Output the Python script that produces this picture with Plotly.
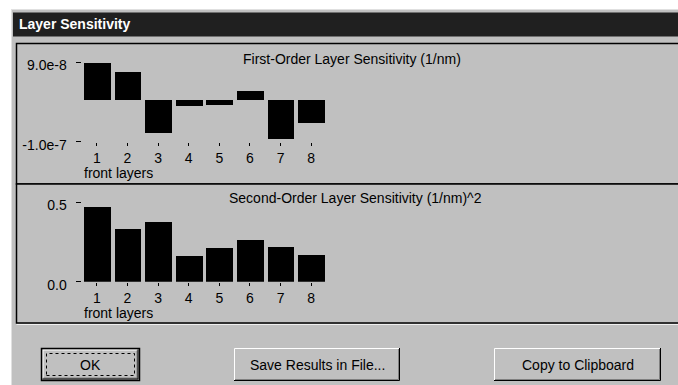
import plotly.graph_objects as go

W, H = 678, 385

layers = [1, 2, 3, 4, 5, 6, 7, 8]
first_order = [8.7e-8, 6.7e-8, -7.9e-8, -1.55e-8, -1.25e-8, 2.0e-8, -9.4e-8, -5.6e-8]
second_order = [0.467, 0.329, 0.376, 0.159, 0.210, 0.260, 0.218, 0.166]
first_ticks = [-1.0e-7, 9.0e-8]
first_ticktext = ["-1.0e-7", "9.0e-8"]
second_ticks = [0.0, 0.5]
second_ticktext = ["0.0", "0.5"]

FONT = "Liberation Sans, Arial, sans-serif"
GRAY = "#c0c0c0"


def px(x):
    return x / W


def py(y):
    return 1 - y / H


fig = go.Figure()
fig.add_trace(go.Bar(x=layers, y=first_order, width=0.87, marker=dict(color="black", line=dict(width=0)),
                     xaxis="x", yaxis="y", hoverinfo="skip"))
fig.add_trace(go.Bar(x=layers, y=second_order, width=0.87, marker=dict(color="black", line=dict(width=0)),
                     xaxis="x2", yaxis="y2", hoverinfo="skip"))

xdom = [px(81.5), px(326.5)]
common_x = dict(range=[0.5, 8.5], tickvals=layers, ticks="outside", ticklen=3, tickcolor="black",
                showgrid=False, zeroline=False, showline=False, fixedrange=True, automargin=False,
                tickfont=dict(family=FONT, size=14, color="black"), domain=xdom)
common_y = dict(ticks="outside", ticklen=5, tickcolor="black", tickwidth=1, showgrid=False,
                zeroline=False, showline=False, fixedrange=True, ticklabelstandoff=6, automargin=False,
                ticklabelshift=3,
                tickfont=dict(family=FONT, size=14, color="black"))

shapes = []
# dialog background
shapes.append(dict(type="rect", xref="paper", yref="paper", x0=px(11), x1=px(W + 5), y0=py(H + 5), y1=py(9),
                   fillcolor=GRAY, line=dict(width=0), layer="below"))
shapes.append(dict(type="line", xref="paper", yref="paper", x0=px(11), x1=px(W + 5), y0=py(9.5), y1=py(9.5),
                   line=dict(color="#e0e0e0", width=1), layer="below"))
shapes.append(dict(type="line", xref="paper", yref="paper", x0=px(11.5), x1=px(11.5), y0=py(9), y1=py(H + 5),
                   line=dict(color="#e0e0e0", width=1), layer="below"))
# title bar
shapes.append(dict(type="rect", xref="paper", yref="paper", x0=px(13), x1=px(W + 5), y0=py(36.5), y1=py(12.5),
                   fillcolor="#202020", line=dict(width=0), layer="below"))
# panels
for (t, b) in [(43.5, 184), (184, 323)]:
    shapes.append(dict(type="rect", xref="paper", yref="paper", x0=px(16.5), x1=px(W + 5), y0=py(b), y1=py(t),
                       fillcolor=GRAY, line=dict(color="black", width=1.5), layer="below"))
    shapes.append(dict(type="line", xref="paper", yref="paper", x0=px(16.5), x1=px(W + 5), y0=py(b + 1.5), y1=py(b + 1.5),
                       line=dict(color="#f0f0f0", width=1), layer="below"))

# buttons
buttons = [(41, 140, "OK", True), (234, 400, "Save Results in File...", False), (494, 661, "Copy to Clipboard", False)]
annotations = []
for (x0, x1, label, default) in buttons:
    y0, y1 = 348, 381
    shapes.append(dict(type="rect", xref="paper", yref="paper", x0=px(x0), x1=px(x1), y0=py(y1), y1=py(y0),
                       fillcolor=GRAY, line=dict(width=0), layer="below"))
    off = 1.5 if default else 0
    shapes.append(dict(type="path", xref="paper", yref="paper",
                       path=f"M {px(x0+off+0.5)} {py(y1-off-1)} L {px(x0+off+0.5)} {py(y0+off+0.5)} L {px(x1-off-1)} {py(y0+off+0.5)}",
                       line=dict(color="white", width=1), layer="below"))
    shapes.append(dict(type="path", xref="paper", yref="paper",
                       path=f"M {px(x0+off+1)} {py(y1-off-1.5)} L {px(x1-off-1.5)} {py(y1-off-1.5)} L {px(x1-off-1.5)} {py(y0+off+1)}",
                       line=dict(color="#808080", width=1), layer="below"))
    shapes.append(dict(type="path", xref="paper", yref="paper",
                       path=f"M {px(x0+off)} {py(y1-off-0.5)} L {px(x1-off-0.5)} {py(y1-off-0.5)} L {px(x1-off-0.5)} {py(y0+off)}",
                       line=dict(color="black", width=1), layer="below"))
    if default:
        shapes.append(dict(type="rect", xref="paper", yref="paper", x0=px(x0 + 0.5), x1=px(x1 - 0.5),
                           y0=py(y1 - 0.5), y1=py(y0 + 0.5), line=dict(color="black", width=1.5), layer="below"))
        shapes.append(dict(type="rect", xref="paper", yref="paper", x0=px(x0 + 5.5), x1=px(x1 - 5.5),
                           y0=py(y1 - 5.5), y1=py(y0 + 5.5), line=dict(color="black", width=1, dash="dot"), layer="below"))
    annotations.append(dict(x=px((x0 + x1) / 2), y=py((y0 + y1) / 2), xref="paper", yref="paper", text=label,
                            showarrow=False, xanchor="center", yanchor="middle",
                            font=dict(family=FONT, size=14, color="black")))

annotations += [
    dict(x=px(17), y=py(24.5), xref="paper", yref="paper", text="<b>Layer Sensitivity</b>", showarrow=False,
         xanchor="left", yanchor="middle", font=dict(family=FONT, size=14, color="white")),
    dict(x=px(352), y=py(59), xref="paper", yref="paper", text="First-Order Layer Sensitivity (1/nm)",
         showarrow=False, xanchor="center", yanchor="middle", font=dict(family=FONT, size=14, color="black")),
    dict(x=px(355.5), y=py(198), xref="paper", yref="paper", text="Second-Order Layer Sensitivity (1/nm)^2",
         showarrow=False, xanchor="center", yanchor="middle", font=dict(family=FONT, size=14, color="black")),
    dict(x=px(82), y=py(173), xref="paper", yref="paper", text="front layers", showarrow=False,
         xanchor="left", yanchor="middle", font=dict(family=FONT, size=14, color="black")),
    dict(x=px(82), y=py(313), xref="paper", yref="paper", text="front layers", showarrow=False,
         xanchor="left", yanchor="middle", font=dict(family=FONT, size=14, color="black")),
]

fig.update_layout(
    width=W, height=H, margin=dict(l=0, r=0, t=0, b=0, pad=0, autoexpand=False),
    paper_bgcolor="white", plot_bgcolor="rgba(0,0,0,0)", showlegend=False,
    bargap=0,
    xaxis=dict(common_x, anchor="y"),
    yaxis=dict(common_y, domain=[py(141.7), py(62)], range=[-1.0e-7, 9.0e-8], tickvals=first_ticks,
               ticktext=first_ticktext, anchor="x"),
    xaxis2=dict(common_x, anchor="y2"),
    yaxis2=dict(common_y, domain=[py(281.7), py(202)], range=[0, 0.5], tickvals=second_ticks,
                ticktext=second_ticktext, anchor="x2"),
    shapes=shapes, annotations=annotations,
)

fig.write_html("out.html", config=dict(displayModeBar=False),
               post_script="document.body.style.margin='0';document.body.style.overflow='hidden';")
